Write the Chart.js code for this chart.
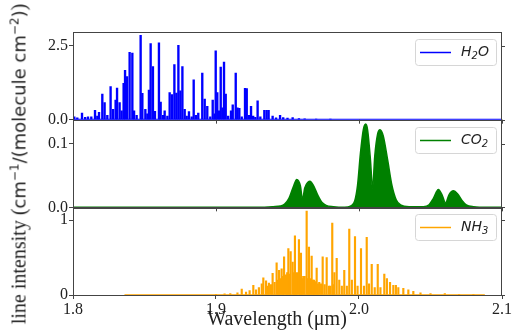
<!DOCTYPE html>
<html>
<head>
<meta charset="utf-8">
<script src="https://cdn.jsdelivr.net/npm/chart.js@4.4.1/dist/chart.umd.min.js"></script>
<style>
html,body{margin:0;padding:0;background:#fff;}
#wrap{position:relative;width:517px;height:331px;}
#ylab{position:absolute;left:19px;top:164px;transform:translate(-50%,-50%) rotate(-90deg);white-space:nowrap;font-family:"Liberation Serif";font-size:20px;color:#222;}
#ylab .m{font-family:"DejaVu Sans";font-size:18px;}
#ylab sup{font-size:12px;vertical-align:7px;line-height:0;}
#xlab{position:absolute;left:277px;top:318px;transform:translate(-50%,-50%);white-space:nowrap;font-family:"Liberation Serif";font-size:20px;color:#222;}
</style>
</head>
<body>
<div id="wrap">
<canvas id="spec" width="517" height="331"></canvas>
<div id="ylab">line intensity (<span class="m">cm<sup>−1</sup>/(molecule cm<sup>−2</sup>)</span>)</div>
<div id="xlab">Wavelength (μm)</div>
</div>
<script>
// ==========================================
// LINE SPECTRA  1.8 - 2.1 um
// ==========================================

// x axis
const xTicks=[1.8,1.9,2.0,2.1];

// H2O sticks (um / intensity)
const h2oWl=[
1.8009,1.8030,1.8063,1.8085,1.8105,1.8128,1.8154,1.8170,1.8182,1.8205,
1.8221,1.8240,1.8263,1.8280,1.8298,1.8308,1.8326,1.8340,1.8354,1.8364,
1.8378,1.8396,1.8415,1.8427,1.8445,1.8473,1.8485,1.8506,1.8520,1.8531,
1.8543,1.8559,1.8573,1.8601,1.8613,1.8630,1.8641,1.8660,1.8676,1.8692,
1.8709,1.8723,1.8737,1.8751,1.8765,1.8781,1.8795,1.8811,1.8830,1.8844,
1.8860,1.8876,1.8904,1.8921,1.8939,1.8960,1.8977,1.8990,1.8998,1.9009,
1.9020,1.9033,1.9045,1.9056,1.9068,1.9085,1.9105,1.9117,1.9138,1.9150,
1.9163,1.9180,1.9203,1.9215,1.9230,1.9245,1.9260,1.9275,1.9291,1.9310,
1.9338,1.9354,1.9368,1.9396,1.9420,1.9448,1.9470,1.9500,1.9536,1.9580,
1.9620,1.9700,1.9800
];
const h2oInt=[
0.10,0.06,0.22,0.08,0.10,0.10,0.32,0.12,0.25,0.87,
0.58,0.15,1.12,0.35,0.66,1.07,0.58,0.30,1.23,1.67,
1.46,2.28,2.26,0.30,0.15,2.86,0.89,0.35,0.20,1.00,
2.58,1.80,0.28,2.60,0.60,0.15,0.30,0.12,0.92,0.85,
1.87,0.90,2.52,0.98,1.80,0.35,0.12,0.27,0.10,1.35,
0.15,0.22,1.58,0.70,0.45,0.10,0.66,0.20,2.33,0.92,
0.30,1.78,0.40,1.95,0.87,0.12,0.30,0.50,1.58,0.40,
0.38,0.10,1.06,1.05,0.15,0.45,0.12,0.08,0.64,0.10,
0.32,0.32,0.32,0.12,0.06,0.15,0.07,0.05,0.07,0.04,
0.03,0.02,0.02
];
const h2oRange=[1.8,2.1];
const h2oTicks=[0,2.5];

// CO2 band profile
const co2Wl=[
1.800,1.930,1.940,1.945,1.948,1.951,1.954,1.9565,1.959,1.9605,
1.962,1.9645,1.9657,1.968,1.971,1.974,1.977,1.982,1.990,1.994,
1.997,1.999,2.001,2.003,2.0047,2.006,2.008,2.0095,2.011,2.013,
2.0147,2.017,2.020,2.023,2.026,2.029,2.035,2.045,2.049,2.052,
2.0555,2.058,2.0605,2.063,2.066,2.069,2.072,2.075,2.080,2.090,
2.100
];
const co2Int=[
0,0,0.001,0.002,0.005,0.014,0.032,0.044,0.034,0.012,
0.030,0.040,0.041,0.035,0.020,0.008,0.003,0.001,0,0.002,
0.010,0.035,0.085,0.122,0.131,0.122,0.075,0.030,0.080,0.115,
0.122,0.112,0.075,0.035,0.012,0.004,0.001,0.001,0.004,0.014,
0.028,0.020,0.007,0.020,0.026,0.021,0.011,0.004,0.001,0,
0
];
const co2Ticks=[0,0.1];

// NH3 sticks
const nh3Wl=[
1.9000,1.9060,1.9100,1.9150,1.9180,1.9210,1.9235,1.9261,1.9280,1.9300,
1.9320,1.9331,1.9350,1.9360,1.9370,1.9385,1.9396,1.9410,1.9424,1.9432,
1.9441,1.9450,1.9459,1.9468,1.9476,1.9490,1.9498,1.9506,1.9515,1.9522,
1.9536,1.9545,1.9552,1.9560,1.9566,1.9580,1.9588,1.9594,1.9602,1.9610,
1.9620,1.9634,1.9642,1.9650,1.9660,1.9669,1.9678,1.9686,1.9695,1.9704,
1.9712,1.9722,1.9735,1.9746,1.9760,1.9774,1.9790,1.9800,1.9813,1.9820,
1.9828,1.9844,1.9862,1.9880,1.9897,1.9915,1.9932,1.9950,1.9972,1.9990,
2.0014,2.0035,2.0054,2.0070,2.0089,2.0110,2.0131,2.0150,2.0177,2.0195,
2.0217,2.0240,2.0258,2.0275,2.0310,2.0345,2.0380,2.0430,2.0500,2.0600,
2.0700,2.0800
];
const nh3Int=[
0.01,0.015,0.02,0.03,0.08,0.04,0.06,0.13,0.07,0.10,
0.15,0.23,0.19,0.12,0.16,0.14,0.29,0.17,0.43,0.20,
0.33,0.22,0.35,0.25,0.51,0.27,0.30,0.62,0.28,0.58,
0.44,0.30,0.79,0.25,0.30,0.74,0.28,0.56,0.22,0.25,
0.25,1.12,0.22,0.64,0.22,0.52,0.20,0.20,0.18,0.36,
0.15,0.17,0.15,0.51,0.14,0.50,0.12,0.12,0.96,0.14,
0.30,0.49,0.20,0.12,0.33,0.12,0.88,0.20,0.78,0.12,
0.62,0.12,0.77,0.15,0.41,0.10,0.41,0.10,0.28,0.22,
0.17,0.13,0.13,0.10,0.09,0.07,0.05,0.03,0.02,0.02,
0.01,0.01
];
const nh3Range=[1.836,2.088];
const nh3Ticks=[0,1];

const names=["H_2O","CO_2","NH_3"];
const colors=["#0000ff","#008000","#ffa500"];

// ==========================================

const pts=(xs,ys)=>xs.map((x,i)=>({x:x,y:ys[i]}));
const flat=r=>r.map(x=>({x:x,y:0}));

Chart.defaults.font.family="Liberation Serif";
Chart.defaults.color="#222";

function yAxis(max,ticks,dec){
  return {
    type:"linear",position:"left",stack:"panels",stackWeight:1,
    min:0,max:max,
    border:{display:false},
    grid:{drawOnChartArea:false,tickLength:4,tickColor:"#444"},
    ticks:{autoSkip:false,padding:1,font:{size:16},callback:v=>Number(v).toFixed(dec)},
    afterBuildTicks:s=>{s.ticks=ticks.map(v=>({value:v}));},
    afterFit:s=>{s.width=73;}
  };
}

const panelFrame={
  id:"panelFrame",
  afterDatasetsDraw(chart){
    const ctx=chart.ctx,a=chart.chartArea,xs=chart.scales.x;
    ctx.save();
    ["yH","yC","yN"].forEach((id,k)=>{
      const s=chart.scales[id];
      ctx.strokeStyle="#444";ctx.lineWidth=1;
      // right side ticks
      s.ticks.forEach(t=>{
        const y=Math.round(s.getPixelForValue(t.value))+.5;
        ctx.beginPath();ctx.moveTo(a.right,y);ctx.lineTo(a.right+3,y);ctx.stroke();
      });
      // x ticks under upper panels
      if(k<2){
        xTicks.forEach(v=>{
          const x=Math.round(xs.getPixelForValue(v))+.5;
          ctx.beginPath();ctx.moveTo(x,s.bottom);ctx.lineTo(x,s.bottom+4);ctx.stroke();
        });
      }
      ctx.strokeRect(Math.round(a.left)+.5,Math.round(s.top)+.5,Math.round(a.right-a.left)-1,Math.round(s.bottom-s.top));

      // legend box
      const bw=81,bh=26,bx=a.right-6-bw,by=s.top+7;
      ctx.beginPath();
      ctx.roundRect(bx+.5,Math.round(by)+.5,bw,bh,3);
      ctx.fillStyle="rgba(255,255,255,0.8)";ctx.fill();
      ctx.strokeStyle="#d6d6d6";ctx.stroke();
      const cy=Math.round(by+bh/2)+.5;
      ctx.strokeStyle=colors[k];ctx.lineWidth=1.5;
      ctx.beginPath();ctx.moveTo(bx+5,cy);ctx.lineTo(bx+36,cy);ctx.stroke();
      ctx.fillStyle="#222";ctx.textBaseline="middle";ctx.textAlign="left";
      let tx=bx+46;
      names[k].split(/(_\d)/).filter(p=>p).forEach(p=>{
        if(p[0]==="_"){
          ctx.font="italic 10px 'DejaVu Sans'";
          ctx.fillText(p.slice(1),tx,cy+4);
        }else{
          ctx.font="italic 14px 'DejaVu Sans'";
          ctx.fillText(p,tx,cy);
        }
        tx+=ctx.measureText(p[0]==="_"?p.slice(1):p).width;
      });
    });
    ctx.restore();
  }
};

new Chart(document.getElementById("spec"),{
  type:"bar",
  data:{
    datasets:[
      {type:"line",data:flat(h2oRange),yAxisID:"yH",borderColor:colors[0],borderWidth:2,pointRadius:0},
      {type:"bar",data:pts(h2oWl,h2oInt),yAxisID:"yH",backgroundColor:colors[0],barThickness:1.7,grouped:false},
      {type:"line",data:pts(co2Wl,co2Int),yAxisID:"yC",borderColor:colors[1],backgroundColor:colors[1],
       borderWidth:1.5,pointRadius:0,fill:"origin",cubicInterpolationMode:"monotone"},
      {type:"line",data:flat(nh3Range),yAxisID:"yN",borderColor:colors[2],borderWidth:1.5,pointRadius:0},
      {type:"bar",data:pts(nh3Wl,nh3Int),yAxisID:"yN",backgroundColor:colors[2],barThickness:1.5,grouped:false}
    ]
  },
  options:{
    responsive:false,
    animation:false,
    devicePixelRatio:1,
    layout:{padding:{top:32,right:15,left:0,bottom:0}},
    plugins:{legend:{display:false},tooltip:{enabled:false}},
    scales:{
      x:{
        type:"linear",position:"bottom",min:1.8,max:2.1,offset:false,
        border:{display:false},
        grid:{drawOnChartArea:false,offset:false,tickLength:4,tickColor:"#444"},
        ticks:{padding:1,font:{size:16},callback:v=>Number(v).toFixed(1)},
        afterBuildTicks:s=>{s.ticks=xTicks.map(v=>({value:v}));},
        afterFit:s=>{s.height=36;}
      },
      yN:yAxis(1.17,nh3Ticks,0),
      yC:yAxis(0.138,co2Ticks,1),
      yH:yAxis(2.97,h2oTicks,1)
    }
  },
  plugins:[panelFrame]
});
</script>
</body>
</html>
